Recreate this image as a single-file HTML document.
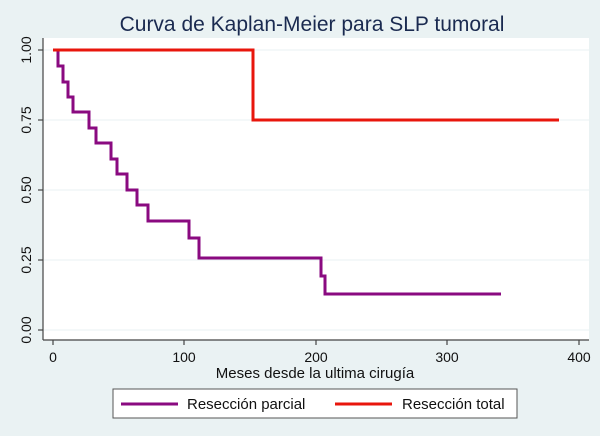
<!DOCTYPE html>
<html><head><style>
body{margin:0;background:#eaf2f3;}
</style></head><body>
<svg width="600" height="436" xmlns="http://www.w3.org/2000/svg" style="display:block;font-family:'Liberation Sans',sans-serif">
<rect width="600" height="436" fill="#eaf2f3"/>
<text x="312" y="31" font-size="21" fill="#1a2a50" text-anchor="middle">Curva de Kaplan-Meier para SLP tumoral</text>
<rect x="43" y="38" width="546" height="302" fill="#fff"/>
<g stroke="#eaf2f3" stroke-width="1">
<line x1="43" y1="50" x2="589" y2="50"/><line x1="43" y1="120" x2="589" y2="120"/>
<line x1="43" y1="190" x2="589" y2="190"/><line x1="43" y1="260" x2="589" y2="260"/>
<line x1="43" y1="330" x2="589" y2="330"/></g>
<g stroke="#444" stroke-width="1.2">
<line x1="43" y1="38" x2="43" y2="340"/><line x1="43" y1="340" x2="589" y2="340"/>
<line x1="38" y1="50" x2="43" y2="50"/><line x1="38" y1="120" x2="43" y2="120"/>
<line x1="38" y1="190" x2="43" y2="190"/><line x1="38" y1="260" x2="43" y2="260"/>
<line x1="38" y1="330" x2="43" y2="330"/>
<line x1="53" y1="340" x2="53" y2="345"/><line x1="184" y1="340" x2="184" y2="345"/>
<line x1="316" y1="340" x2="316" y2="345"/><line x1="447" y1="340" x2="447" y2="345"/>
<line x1="579" y1="340" x2="579" y2="345"/></g>
<g font-size="14" fill="#111" text-anchor="middle">
<text transform="translate(31,50) rotate(-90)">1.00</text>
<text transform="translate(31,120) rotate(-90)">0.75</text>
<text transform="translate(31,190) rotate(-90)">0.50</text>
<text transform="translate(31,260) rotate(-90)">0.25</text>
<text transform="translate(31,330) rotate(-90)">0.00</text>
<text x="53" y="362">0</text><text x="184" y="362">100</text><text x="316" y="362">200</text>
<text x="447" y="362">300</text><text x="579" y="362">400</text>
<text x="315" y="378" font-size="15">Meses desde la ultima cirugía</text>
</g>
<polyline fill="none" stroke="#8a0a80" stroke-width="3" points="53,50 58,50 58,66 63,66 63,82 68,82 68,97 73,97 73,112 89,112 89,128 96,128 96,143 111,143 111,159 117,159 117,174 127,174 127,190 137,190 137,205 148,205 148,221 189,221 189,238 199,238 199,258 321,258 321,276 325,276 325,294 501,294"/>
<polyline fill="none" stroke="#e8160c" stroke-width="3" points="53,50 253,50 253,120 559,120"/>
<rect x="113" y="389" width="404" height="29" fill="#fff" stroke="#555" stroke-width="1"/>
<line x1="121" y1="404" x2="178" y2="404" stroke="#8a0a80" stroke-width="3"/>
<line x1="335" y1="404" x2="392" y2="404" stroke="#e8160c" stroke-width="3"/>
<g font-size="15" fill="#111"><text x="187" y="409">Resección parcial</text><text x="402" y="409">Resección total</text></g>
</svg>
</body></html>
